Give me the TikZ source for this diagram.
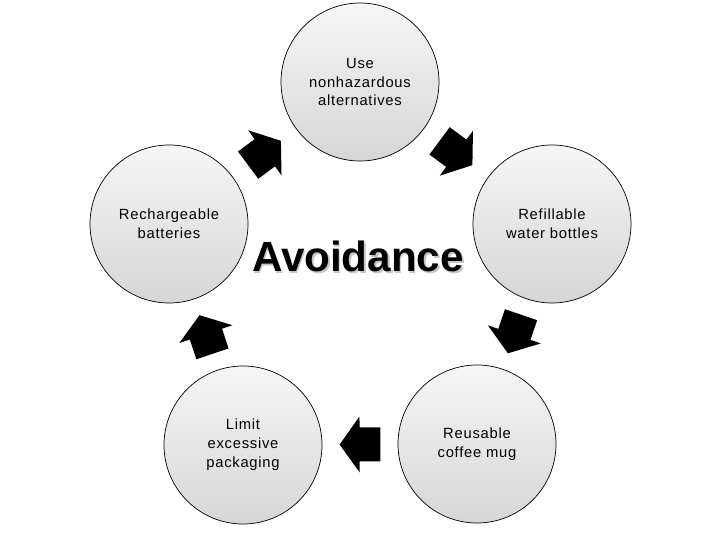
\documentclass[tikz,border=0pt]{standalone}
\usepackage{fontspec}
\setmainfont{Liberation Sans}
\newfontfamily\stagefont[LetterSpace=5]{Liberation Sans}
\usetikzlibrary{calc}

\tikzset{
  stage/.style={circle,draw=black,line width=.5pt,minimum size=3.95cm,inner sep=0pt,
    top color=gray!7,bottom color=gray!32,align=center,
    font=\stagefont\fontsize{10.5}{13.5}\selectfont},
  pics/cyclearrow/.style={code={%
    \fill[black] (-0.51,-0.425)--(0.01,-0.425)--(0.01,-0.7)--(0.51,0)
      --(0.01,0.7)--(0.01,0.425)--(-0.51,0.425)--cycle;}}
}

\begin{document}
\begin{tikzpicture}
\useasboundingbox (0,0) rectangle (18,13.5);
% the five stages
\node[stage] (use) at (9.0,11.45) {Use\\nonhazardous\\alternatives};
\node[stage] (bottles) at (13.8,7.9) {Refillable\\water bottles};
\node[stage] (mug) at (11.925,2.4) {Reusable\\coffee mug};
\node[stage] (pack) at (6.075,2.375) {Limit\\excessive\\packaging};
\node[stage] (batt) at (4.225,7.9) {Rechargeable\\batteries};
% block arrows between them
\path (use) -- pic[midway,sloped,allow upside down]{cyclearrow} (bottles);
\path (bottles) -- pic[midway,sloped,allow upside down]{cyclearrow} (mug);
\path (mug) -- pic[midway,sloped,allow upside down]{cyclearrow} (pack);
\path (pack) -- pic[midway,sloped,allow upside down]{cyclearrow} (batt);
\path (batt) -- pic[midway,sloped,allow upside down]{cyclearrow} (use);
% title
\node[anchor=base,text=gray!45,font=\bfseries\fontsize{30}{36}\selectfont] (titleshadow) at (8.99,6.66) {Avoidance};
\node[anchor=base,font=\bfseries\fontsize{30}{36}\selectfont] (title) at (8.95,6.7) {Avoidance};
\end{tikzpicture}
\end{document}
